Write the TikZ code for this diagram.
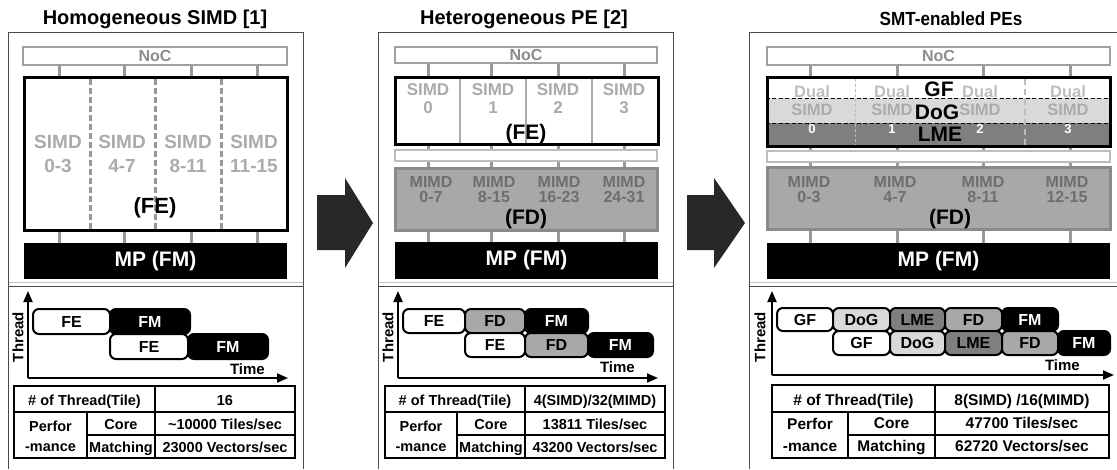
\documentclass[tikz,border=0pt]{standalone}
\usepackage{fontspec}
\setmainfont{Liberation Sans}
\usetikzlibrary{arrows.meta}

\definecolor{nocgray}{HTML}{A0A0A0}
\definecolor{noctext}{HTML}{8C8C8C}
\definecolor{tickgray}{HTML}{999999}
\definecolor{simdgray}{HTML}{ABABAB}
\definecolor{fdfill}{HTML}{A8A8A8}
\definecolor{fdedge}{HTML}{8A8A8A}
\definecolor{mimdtext}{HTML}{6E6E6E}
\definecolor{dogfill}{HTML}{D9D9D9}
\definecolor{lmefill}{HTML}{7F7F7F}
\definecolor{dualtext}{HTML}{BEBEBE}
\definecolor{thinedge}{HTML}{BDBDBD}
\definecolor{arrowfill}{HTML}{282828}
\definecolor{paneledge}{HTML}{4A4A4A}
\definecolor{sepgray}{HTML}{C4C4C4}

% bold text at a given size (px = pt here)
\newcommand\fsz[1]{\fontsize{#1}{#1}\selectfont\bfseries}

% rectangle node from its corners: style, name, x1, y1, x2, y2, text
\newcommand\pebox[7]{%
  \pgfmathsetmacro\pbcx{(#3+#5)/2}%
  \pgfmathsetmacro\pbcy{(#4+#6)/2}%
  \pgfmathsetmacro\pbw{#5-#3}%
  \pgfmathsetmacro\pbh{#6-#4}%
  \node[#1, inner sep=0pt, minimum width=\pbw pt, minimum height=\pbh pt] (#2) at (\pbcx,\pbcy) {#7};}

\begin{document}
\begin{tikzpicture}[x=1pt, y=-1pt,
  panel/.style={draw=paneledge, line width=1pt},
  sepline/.style={draw=sepgray, line width=1.2pt},
  title/.style={inner sep=0pt, font=\fsz{20}},
  nocbox/.style={draw=nocgray, line width=2.5pt, fill=white, text=noctext, font=\fsz{16}},
  thinbar/.style={draw=thinedge, line width=2.5pt, fill=white},
  febox/.style={draw=black, line width=3pt, fill=white},
  topbox/.style={draw=black, line width=3pt},
  fdbox/.style={draw=fdedge, line width=3pt, fill=fdfill},
  mpbox/.style={fill=black, text=white, font=\fsz{21}},
  tick/.style={draw=tickgray, line width=3pt},
  simddash/.style={draw=tickgray, line width=3pt, dash pattern=on 6pt off 3pt},
  simddiv/.style={draw=simdgray, line width=2.5pt},
  simdlbl/.style={inner sep=0pt, text=simdgray, font=\fsz{19}},
  simdlblm/.style={inner sep=0pt, text=simdgray, font=\fsz{17}},
  mimdlbl/.style={inner sep=0pt, text=mimdtext, font=\fsz{16}},
  duallbl/.style={inner sep=0pt, text=dualtext, font=\fsz{16.5}},
  numlbl/.style={inner sep=0pt, text=white, font=\fsz{13}},
  stagelbl/.style={inner sep=0pt, font=\fsz{22}},
  stagelblm/.style={inner sep=0pt, font=\fsz{21}},
  pbar/.style={draw=black, line width=2pt, rounded corners=6pt, font=\fsz{16}},
  barFE/.style={pbar, fill=white},
  barDoG/.style={pbar, fill=dogfill},
  barLME/.style={pbar, fill=lmefill},
  barFD/.style={pbar, fill=fdfill},
  barFM/.style={pbar, fill=black, text=white},
  axisline/.style={line width=2pt, -{Triangle[length=11pt,width=9pt]}},
  axlbl/.style={inner sep=0pt, font=\fsz{15}},
  tabframe/.style={draw=black, line width=2pt},
  tabline/.style={line width=2pt},
  tabtxt/.style={inner sep=0pt, font=\fsz{14.5}},
  tabtxtr/.style={inner sep=0pt, font=\fsz{15.5}},
  bigarrow/.style={fill=arrowfill}
]
\useasboundingbox (0,0) rectangle (1117,469);

% ================= Homogeneous SIMD =================
\draw[panel] (8,469) -- (8,32) -- (303,32) -- (303,469);
\draw[sepline] (8.5,282.5) -- (302.5,282.5);
\draw[panel] (8,286) -- (303,286);
\node[title, anchor=base] (L-title) at (155,24) {Homogeneous SIMD [1]};

\pebox{nocbox}{L-noc}{23}{47}{287}{65}{NoC}
\pebox{febox}{L-fe}{24}{77}{287}{230}{}
\pebox{mpbox}{L-mp}{24}{243}{287}{279}{MP (FM)}
\foreach \x in {90,155,221} \draw[simddash] (\x,79) -- (\x,228.5);
\foreach \x in {59,124,191,257} {
  \draw[tick] (L-noc.south -| \x,0) -- (L-fe.north -| \x,0);
  \draw[tick] (L-fe.south -| \x,0) -- (L-mp.north -| \x,0);
}
\foreach \x/\n [count=\i] in {58/0-3, 122/4-7, 188/8-11, 254/11-15} {
  \node[simdlbl, anchor=base] (L-s\i) at (\x,148) {SIMD};
  \node[simdlbl, anchor=base] (L-n\i) at (\x,172) {\n};
}
\node[stagelbl, anchor=base] (L-felbl) at (155,213) {(FE)};

% timing
\coordinate (L-o) at (28,378);
\coordinate (L-ytop) at (28,291);
\coordinate (L-xend) at (288,378);
\draw[axisline] (L-o) -- (L-ytop);
\draw[axisline] (L-o) -- (L-xend);
\node[axlbl, rotate=90] (L-thread) at (18,337) {Thread};
\node[axlbl, anchor=base east] (L-time) at (265,374) {Time};
\pebox{barFE}{L-b11}{33}{309}{110}{334}{FE}
\pebox{barFM}{L-b12}{110}{309}{190}{334}{FM}
\pebox{barFE}{L-b21}{110}{334}{188}{359}{FE}
\pebox{barFM}{L-b22}{188}{334}{268}{359}{FM}

% table
\pebox{tabframe}{L-tab}{14}{386}{295}{458}{}
\draw[tabline] (14,412) -- (295,412);
\draw[tabline] (87,435) -- (295,435);
\draw[tabline] (155,386) -- (155,458);
\draw[tabline] (87,412) -- (87,458);
\node[tabtxt, anchor=base] (L-t1) at (84.5,405) {\# of Thread(Tile)};
\node[tabtxt, anchor=base] (L-t2) at (225,405) {16};
\node[tabtxt, anchor=base] (L-t3) at (50.5,431) {Perfor};
\node[tabtxt, anchor=base] (L-t4) at (50.5,451) {-mance};
\node[tabtxt, anchor=base] (L-t5) at (121,429) {Core};
\node[tabtxt, anchor=base] (L-t6) at (121,452) {Matching};
\node[tabtxt, anchor=base] (L-t7) at (225,429) {\textasciitilde 10000 Tiles/sec};
\node[tabtxt, anchor=base] (L-t8) at (225,452) {23000 Vectors/sec};

% ================= arrows between panels =================
\fill[bigarrow] (317,195) -- (345,195) -- (345,178) -- (373,223) -- (345,268) -- (345,250) -- (317,250) -- cycle;
\fill[bigarrow] (687,195) -- (714,195) -- (714,178) -- (745,223) -- (714,268) -- (714,250) -- (687,250) -- cycle;

% ================= Heterogeneous PE =================
\draw[panel] (378,469) -- (378,32) -- (673,32) -- (673,469);
\draw[sepline] (378.5,282.5) -- (672.5,282.5);
\draw[panel] (378,286) -- (673,286);
\node[title, anchor=base] (M-title) at (524,24) {Heterogeneous PE [2]};

\pebox{nocbox}{M-noc}{395}{47}{657}{63}{NoC}
\pebox{febox}{M-fe}{395}{77}{658}{144}{}
\pebox{thinbar}{M-thin}{395}{150}{657}{161}{}
\pebox{fdbox}{M-fd}{395}{168}{657}{230}{}
\pebox{mpbox}{M-mp}{395}{242}{658}{279}{MP (FM)}
\foreach \x in {460,526,592} \draw[simddiv] (\x,78.5) -- (\x,142.5);
\foreach \x in {428,491,558,624} {
  \draw[tick] (M-noc.south -| \x,0) -- (M-fe.north -| \x,0);
  \draw[tick] (M-fe.south -| \x,0) -- (M-thin.north -| \x,0);
  \draw[tick] (M-thin.south -| \x,0) -- (M-fd.north -| \x,0);
  \draw[tick] (M-fd.south -| \x,0) -- (M-mp.north -| \x,0);
}
\foreach \x/\n [count=\i] in {428/0, 493/1, 558/2, 624/3} {
  \node[simdlblm, anchor=base] (M-s\i) at (\x,95) {SIMD};
  \node[simdlblm, anchor=base] (M-n\i) at (\x,113) {\n};
}
\node[stagelblm, anchor=base] (M-felbl) at (526,139) {(FE)};
\foreach \x/\n [count=\i] in {431/0-7, 494/8-15, 559/16-23, 624/24-31} {
  \node[mimdlbl, anchor=base] (M-m\i) at (\x,187) {MIMD};
  \node[mimdlbl, anchor=base] (M-r\i) at (\x,202) {\n};
}
\node[stagelblm, anchor=base] (M-fdlbl) at (526,224) {(FD)};

% timing
\coordinate (M-o) at (398,378);
\coordinate (M-ytop) at (398,291);
\coordinate (M-xend) at (658,378);
\draw[axisline] (M-o) -- (M-ytop);
\draw[axisline] (M-o) -- (M-xend);
\node[axlbl, rotate=90] (M-thread) at (388,337) {Thread};
\node[axlbl, anchor=base east] (M-time) at (635,372) {Time};
\pebox{barFE}{M-b11}{403}{309}{465}{333}{FE}
\pebox{barFD}{M-b12}{465}{309}{525}{333}{FD}
\pebox{barFM}{M-b13}{525}{309}{588}{333}{FM}
\pebox{barFE}{M-b21}{465}{333}{525}{357}{FE}
\pebox{barFD}{M-b22}{525}{333}{588}{357}{FD}
\pebox{barFM}{M-b23}{588}{333}{653}{357}{FM}

% table
\pebox{tabframe}{M-tab}{385}{386}{665}{458}{}
\draw[tabline] (385,412) -- (665,412);
\draw[tabline] (457,435) -- (665,435);
\draw[tabline] (525,386) -- (525,458);
\draw[tabline] (457,412) -- (457,458);
\node[tabtxt, anchor=base] (M-t1) at (455,405) {\# of Thread(Tile)};
\node[tabtxt, anchor=base] (M-t2) at (595,405) {4(SIMD)/32(MIMD)};
\node[tabtxt, anchor=base] (M-t3) at (421,431) {Perfor};
\node[tabtxt, anchor=base] (M-t4) at (421,451) {-mance};
\node[tabtxt, anchor=base] (M-t5) at (491,429) {Core};
\node[tabtxt, anchor=base] (M-t6) at (491,452) {Matching};
\node[tabtxt, anchor=base] (M-t7) at (595,429) {13811 Tiles/sec};
\node[tabtxt, anchor=base] (M-t8) at (595,452) {43200 Vectors/sec};

% ================= SMT-enabled PEs =================
\draw[panel] (749,469) -- (749,32) -- (1117,32);
\draw[sepline] (749.5,282.5) -- (1117,282.5);
\draw[panel] (749,286) -- (1117,286);
\node[title, anchor=base, font=\fsz{19}] (R-title) at (951,25) {\scalebox{0.9}[1]{SMT-enabled PEs}};

\pebox{nocbox}{R-noc}{767}{47}{1110}{65}{NoC}
\fill[dogfill] (767,98) rectangle (1110,123);
\fill[lmefill] (767,123) rectangle (1110,146);
\pebox{topbox}{R-top}{767}{77}{1110}{146}{}
\draw[black, line width=1pt, dash pattern=on 4pt off 2.5pt] (R-top.west |- 0,98) -- (R-top.east |- 0,98);
\draw[black, line width=1pt, dash pattern=on 4pt off 2.5pt] (R-top.west |- 0,123) -- (R-top.east |- 0,123);
\draw[dualtext, line width=0.8pt, dash pattern=on 3pt off 2pt] (855,78.5) -- (855,144.5);
\draw[thinedge, line width=2.5pt, dash pattern=on 6pt off 4pt] (1025,78.5) -- (1025,144.5);
\pebox{thinbar}{R-thin}{767}{151}{1110}{162}{}
\pebox{fdbox}{R-fd}{767}{167}{1110}{229}{}
\pebox{mpbox}{R-mp}{767}{243}{1110}{279}{MP (FM)}
\foreach \x in {810,897,983,1070} {
  \draw[tick] (R-noc.south -| \x,0) -- (R-top.north -| \x,0);
  \draw[tick] (R-top.south -| \x,0) -- (R-thin.north -| \x,0);
  \draw[tick] (R-thin.south -| \x,0) -- (R-fd.north -| \x,0);
  \draw[tick] (R-fd.south -| \x,0) -- (R-mp.north -| \x,0);
}
\foreach \x/\n [count=\i] in {812/0, 892/1, 980/2, 1068/3} {
  \node[duallbl, anchor=base] (R-d\i) at (\x,97) {Dual};
  \node[simdlblm, font=\fsz{16.5}, anchor=base] (R-s\i) at (\x,115) {SIMD};
  \node[numlbl, anchor=base] (R-n\i) at (\x,133) {\n};
}
\node[stagelblm, anchor=base] (R-gf) at (939,96) {GF};
\node[stagelblm, anchor=base] (R-dog) at (937,119) {DoG};
\node[stagelblm, anchor=base] (R-lme) at (940,141) {LME};
\foreach \x/\n [count=\i] in {809/0-3, 895/4-7, 983/8-11, 1067/12-15} {
  \node[mimdlbl, anchor=base] (R-m\i) at (\x,187) {MIMD};
  \node[mimdlbl, anchor=base] (R-r\i) at (\x,202) {\n};
}
\node[stagelblm, anchor=base] (R-fdlbl) at (950,224) {(FD)};

% timing
\coordinate (R-o) at (772,375);
\coordinate (R-ytop) at (772,291);
\coordinate (R-xend) at (1114,375);
\draw[axisline] (R-o) -- (R-ytop);
\draw[axisline] (R-o) -- (R-xend);
\node[axlbl, rotate=90] (R-thread) at (760,337) {Thread};
\node[axlbl, anchor=base east] (R-time) at (1080,370) {Time};
\pebox{barFE}{R-b11}{777}{308}{833}{331}{GF}
\pebox{barDoG}{R-b12}{833}{308}{890}{331}{DoG}
\pebox{barLME}{R-b13}{890}{308}{945}{331}{LME}
\pebox{barFD}{R-b14}{945}{308}{1002}{331}{FD}
\pebox{barFM}{R-b15}{1002}{308}{1058}{331}{FM}
\pebox{barFE}{R-b21}{833}{331}{890}{355}{GF}
\pebox{barDoG}{R-b22}{890}{331}{945}{355}{DoG}
\pebox{barLME}{R-b23}{945}{331}{1002}{355}{LME}
\pebox{barFD}{R-b24}{1002}{331}{1058}{355}{FD}
\pebox{barFM}{R-b25}{1058}{331}{1110}{355}{FM}

% table
\pebox{tabframe}{R-tab}{772}{385}{1109}{458}{}
\draw[tabline] (772,412) -- (1109,412);
\draw[tabline] (848,435) -- (1109,435);
\draw[tabline] (935,385) -- (935,458);
\draw[tabline] (848,412) -- (848,458);
\node[tabtxtr, anchor=base] (R-t1) at (853.5,405) {\# of Thread(Tile)};
\node[tabtxtr, anchor=base] (R-t2) at (1022,405) {8(SIMD) /16(MIMD)};
\node[tabtxtr, anchor=base] (R-t3) at (810,429) {Perfor};
\node[tabtxtr, anchor=base] (R-t4) at (810,451) {-mance};
\node[tabtxtr, anchor=base] (R-t5) at (891.5,428) {Core};
\node[tabtxtr, anchor=base] (R-t6) at (891.5,451) {Matching};
\node[tabtxtr, anchor=base] (R-t7) at (1022,428) {47700 Tiles/sec};
\node[tabtxtr, anchor=base] (R-t8) at (1022,451) {62720 Vectors/sec};
\end{tikzpicture}
\end{document}
